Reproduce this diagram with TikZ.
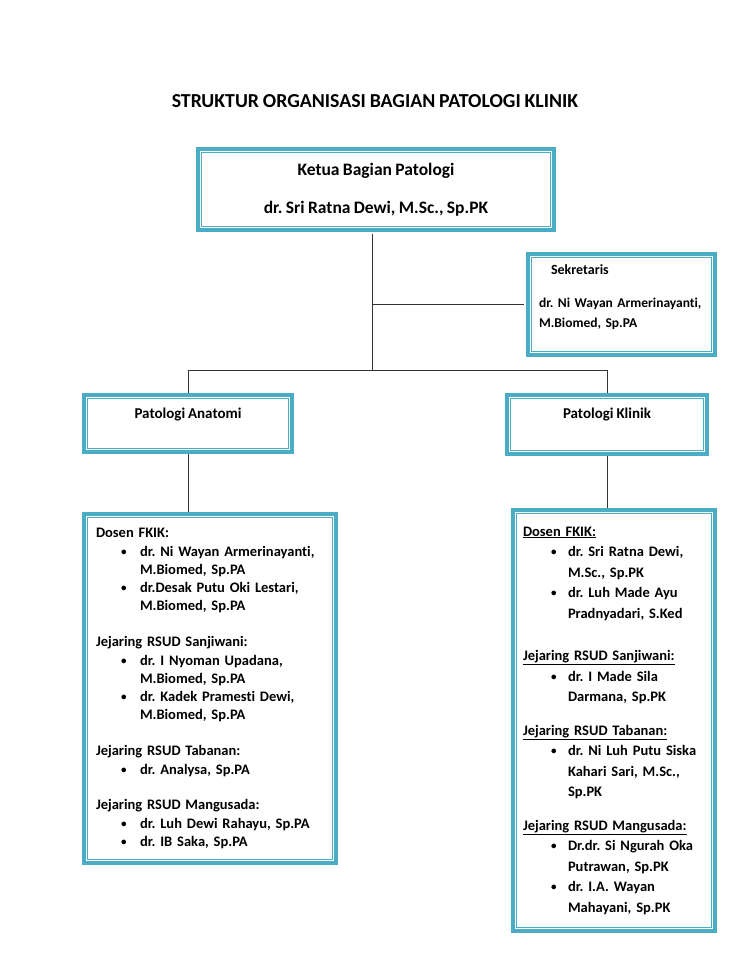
\documentclass[tikz,border=0pt]{standalone}
\usepackage{fontspec}
\setmainfont{Carlito}[Ligatures=NoCommon,WordSpace=0.85]
\usepackage{tikz}
\definecolor{aqua}{HTML}{4BACC6}
\frenchspacing

% bullet and continuation indents for the two lists
\newcommand{\listdot}{\raisebox{1pt}{\fontsize{11}{11}\selectfont\textbullet}}
\newcommand{\lbul}{\hspace*{25pt}\makebox[19pt][l]{\listdot}}
\newcommand{\lcont}{\hspace*{44pt}}
\newcommand{\rbul}{\hspace*{28pt}\makebox[17pt][l]{\listdot}}
\newcommand{\rcont}{\hspace*{45pt}}

\begin{document}
\begin{tikzpicture}[x=1pt,y=-1pt,
frame/.style={draw=aqua,line width=3.6pt,inner sep=0pt,font=\bfseries\fontsize{14.5}{18.3}\selectfont,
  append after command={\pgfextra{\draw[aqua,line width=1.2pt]
    ([shift={(5.2pt,-5.2pt)}]\tikzlastnode.north west) rectangle ([shift={(-5.2pt,5.2pt)}]\tikzlastnode.south east);}}},
heading/.style={font=\bfseries\fontsize{19.8}{22}\selectfont},
link/.style={draw=black!80,line width=0.9pt}
]
\useasboundingbox (0,0) rectangle (750,971);

\node[heading] (title) at (375,101) {STRUKTUR ORGANISASI BAGIAN PATOLOGI KLINIK};

\node[frame,minimum width=356pt,minimum height=81pt,align=center,font=\bfseries\fontsize{17.5}{18}\selectfont] (ketua) at (376,189.5)
  {Ketua Bagian Patologi\\[20pt]dr. Sri Ratna Dewi, M.Sc., Sp.PK};

\node[frame,minimum width=187pt,minimum height=101pt,text width=165pt,align=left,font=\bfseries\fontsize{13.5}{20}\selectfont] (sekr) at (621.5,304.5)
  {\hspace*{12pt}{\fontsize{14}{20}\selectfont Sekretaris}\\[13pt]dr. Ni Wayan Armerinayanti,\\M.Biomed, Sp.PA\\[-4pt]\mbox{}};

\node[frame,minimum width=208pt,minimum height=57pt,text depth=21pt,font=\bfseries\fontsize{15}{18}\selectfont] (anat) at (188,423.5) {Patologi Anatomi};
\node[frame,minimum width=200pt,minimum height=59pt,text depth=22pt,font=\bfseries\fontsize{15}{18}\selectfont] (klin) at (607,424.5) {Patologi Klinik};

\node[frame,minimum width=252pt,minimum height=349pt,text width=228pt,align=left] (anatlist) at (210,688.5)
  {Dosen FKIK:\\
   \lbul dr. Ni Wayan Armerinayanti,\\
   \lcont M.Biomed, Sp.PA\\
   \lbul dr.Desak Putu Oki Lestari,\\
   \lcont M.Biomed, Sp.PA\\[17.5pt]
   Jejaring RSUD Sanjiwani:\\
   \lbul dr. I Nyoman Upadana,\\
   \lcont M.Biomed, Sp.PA\\
   \lbul dr. Kadek Pramesti Dewi,\\
   \lcont M.Biomed, Sp.PA\\[17.5pt]
   Jejaring RSUD Tabanan:\\
   \lbul dr. Analysa, Sp.PA\\[17.5pt]
   Jejaring RSUD Mangusada:\\
   \lbul dr. Luh Dewi Rahayu, Sp.PA\\
   \lbul dr. IB Saka, Sp.PA};

\node[frame,minimum width=202pt,minimum height=421pt,text width=182pt,align=left,font=\bfseries\fontsize{14.5}{20.5}\selectfont] (klinlist) at (614,720.5)
  {\underline{Dosen FKIK:}\\
   \rbul dr. Sri Ratna Dewi,\\
   \rcont M.Sc., Sp.PK\\
   \rbul dr. Luh Made Ayu\\
   \rcont Pradnyadari, S.Ked\\[22pt]
   \underline{Jejaring RSUD Sanjiwani:}\\
   \rbul dr. I Made Sila\\
   \rcont Darmana, Sp.PK\\[13pt]
   \underline{Jejaring RSUD Tabanan:}\\
   \rbul dr. Ni Luh Putu Siska\\
   \rcont Kahari Sari, M.Sc.,\\
   \rcont Sp.PK\\[13pt]
   \underline{Jejaring RSUD Mangusada:}\\
   \rbul Dr.dr. Si Ngurah Oka\\
   \rcont Putrawan, Sp.PK\\
   \rbul dr. I.A. Wayan\\
   \rcont Mahayani, Sp.PK};

% connectors
\coordinate (hub) at (372,370.5);
\draw[link] ([yshift=-2pt]ketua.south -| hub) -- (hub);
\draw[link] (hub |- sekr.west) -- ([xshift=-2pt]sekr.west);
\draw[link] (anat.north) |- (hub) -| (klin.north);
\draw[link] (anat.south) -- (anat.south |- anatlist.north);
\draw[link] (klin.south) -- (klin.south |- klinlist.north);
\end{tikzpicture}
\end{document}
